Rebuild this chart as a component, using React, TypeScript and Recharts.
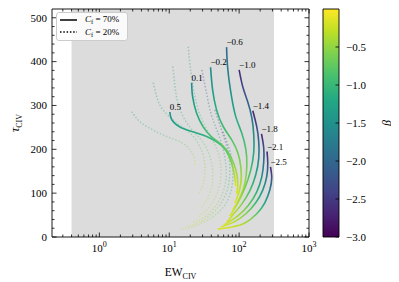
import React from 'react';
import { ComposedChart, Line, XAxis, YAxis, ReferenceArea, Legend, Customized } from 'recharts';

const FONT = '"Liberation Serif", "Times New Roman", serif';
const W = 391;
const H = 274;
const PL = 44;
const PT = 1;
const PR = 301;
const PB = 229;

const VIRIDIS = ['#440154', '#482475', '#414487', '#355f8d', '#2a788e', '#21918c', '#22a884', '#44bf70', '#7ad151', '#bddf26', '#fde725'];
const hex = (h: string) => [parseInt(h.slice(1, 3), 16), parseInt(h.slice(3, 5), 16), parseInt(h.slice(5, 7), 16)];
function viridis(t: number) {
  const c = Math.max(0, Math.min(1, t));
  const s = c * 10;
  const i = Math.min(9, Math.floor(s));
  const f = s - i;
  const a = hex(VIRIDIS[i]);
  const b = hex(VIRIDIS[i + 1]);
  return `rgb(${a.map((v, k) => Math.round(v + (b[k] - v) * f)).join(',')})`;
}
const BETA_MIN = -3;
const BETA_MAX = 0;
const betaColor = (b: number) => viridis((b - BETA_MIN) / (BETA_MAX - BETA_MIN));

// ---------- axes ----------
const X_DOMAIN = [0.21, 1000];
const Y_DOMAIN = [0, 520];
const GRAY_RANGE = [0.4, 316];
const X_MAJOR = [1, 10, 100, 1000];
const X_MINOR = [0.3, 0.4, 0.5, 0.6, 0.7, 0.8, 0.9, 2, 3, 4, 5, 6, 7, 8, 9, 20, 30, 40, 50, 60, 70, 80, 90, 200, 300, 400, 500, 600, 700, 800, 900];
const X_TICKS = [...X_MINOR, ...X_MAJOR].sort((a, b) => a - b);
const Y_MAJOR = [0, 100, 200, 300, 400, 500];
const Y_TICKS = [0, 20, 40, 60, 80, 100, 120, 140, 160, 180, 200, 220, 240, 260, 280, 300, 320, 340, 360, 380, 400, 420, 440, 460, 480, 500];
const CB_TICKS = [-3, -2.5, -2, -1.5, -1, -0.5];

// ---------- solid curves (C_f = 70%) ----------
const SOLID_LABELS = ['0.5', '0.1', '−0.2', '−0.6', '−1.0', '−1.4', '−1.8', '−2.1', '−2.5'];
const SOLID_BETA_TOP = [-1.55, -1.6, -1.6, -2.0, -2.65, -2.7, -2.7, -2.7, -2.7];
const SOLID_BETA_BOTTOM = -0.15;
const S05_EW = [10.2, 10.9, 14.2, 21.8, 38.1, 56.6, 71.3, 81.3, 86.8, 89.7];
const S05_TAU = [285, 267, 251, 240, 226, 208, 185, 158, 135, 116];
const S01_EW = [20.9, 21.6, 24.6, 30.6, 40.7, 58.5, 76.1, 89.7, 95.8, 92.7];
const S01_TAU = [352, 320, 283, 251, 228, 208, 183, 153, 123, 98];
const Sm02_EW = [39.0, 41.7, 47.5, 59.1, 78.7, 95.8, 106, 106, 95.8, 86.8];
const Sm02_TAU = [387, 336, 290, 252, 221, 192, 158, 123, 94, 78];
const Sm06_EW = [66.1, 69.0, 77.9, 89.7, 109, 125, 129, 121, 102, 81.3];
const Sm06_TAU = [433, 381, 320, 274, 237, 199, 162, 123, 89, 62];
const Sm10_EW = [100, 113, 133, 152, 162, 162, 147, 121, 95.8, 73.6];
const Sm10_TAU = [381, 342, 308, 272, 233, 194, 153, 112, 78, 48];
const Sm14_EW = [157, 179, 191, 191, 173, 142, 109, 84.0, 66.7];
const Sm14_TAU = [288, 251, 217, 180, 142, 105, 75, 53, 34];
const Sm18_EW = [209, 225, 225, 211, 179, 137, 95.8, 60.4];
const Sm18_TAU = [235, 203, 171, 137, 103, 73, 48, 27];
const Sm21_EW = [251, 257, 249, 218, 173, 125, 84.0, 54.8];
const Sm21_TAU = [195, 169, 139, 107, 78, 53, 34, 23];
const Sm25_EW = [281, 293, 275, 233, 179, 121, 78.7, 49.6];
const Sm25_TAU = [160, 135, 107, 78, 53, 32, 23, 18];
const SOLID_EW = [S05_EW, S01_EW, Sm02_EW, Sm06_EW, Sm10_EW, Sm14_EW, Sm18_EW, Sm21_EW, Sm25_EW];
const SOLID_TAU = [S05_TAU, S01_TAU, Sm02_TAU, Sm06_TAU, Sm10_TAU, Sm14_TAU, Sm18_TAU, Sm21_TAU, Sm25_TAU];

// ---------- dotted curves (C_f = 20%) ----------
const DOTTED_BETA_TOP = [-1.5, -1.5, -1.5, -1.5, -2.6, -2.6, -2.6];
const DOTTED_BETA_BOTTOM = -0.25;
const D1_EW = [2.90, 3.81, 5.85, 9.58, 15.2, 19.8, 22.5, 23.3];
const D1_TAU = [286, 263, 244, 228, 215, 199, 183, 164];
const D2_EW = [5.91, 6.61, 8.13, 12.9, 19.8, 26.6, 31.3, 32.4, 30.3, 26.6];
const D2_TAU = [352, 320, 290, 260, 237, 210, 180, 148, 119, 100];
const D3_EW = [11.2, 12.1, 13.3, 16.8, 23.3, 32.4, 39.4, 42.1, 39.4, 33.4, 27.5];
const D3_TAU = [389, 343, 306, 267, 237, 210, 176, 142, 107, 80, 66];
const D4_EW = [18.7, 19.8, 21.8, 24.9, 30.3, 39.4, 49.6, 54.8, 53.0, 45.0, 34.6, 25.7];
const D4_TAU = [434, 393, 347, 301, 263, 228, 194, 158, 121, 89, 62, 46];
const D5_EW = [29.3, 33.4, 39.4, 48.0, 58.5, 64.6, 64.6, 56.6, 43.5, 30.3, 21.8];
const D5_TAU = [381, 336, 283, 244, 203, 164, 130, 96, 66, 43, 34];
const D6_EW = [45.0, 53.0, 62.5, 71.3, 73.6, 69.0, 56.6, 40.7, 25.7, 17.9];
const D6_TAU = [290, 256, 221, 185, 148, 112, 80, 53, 32, 25];
const D7_EW = [58.5, 69.0, 78.7, 81.3, 73.6, 56.6, 35.7, 21.1, 14.2];
const D7_TAU = [240, 210, 176, 135, 96, 64, 39, 23, 18];
const DOTTED_EW = [D1_EW, D2_EW, D3_EW, D4_EW, D5_EW, D6_EW, D7_EW];
const DOTTED_TAU = [D1_TAU, D2_TAU, D3_TAU, D4_TAU, D5_TAU, D6_TAU, D7_TAU];

const LEGEND_ITEMS = [
  { pct: '70%', dash: undefined as string | undefined },
  { pct: '20%', dash: '1.5 1.8' },
];

const toPoints = (ew: number[], tau: number[]) => ew.map((x, i) => ({ x, y: tau[i] }));
const SOLID_DATA = SOLID_EW.map((ew, i) => toPoints(ew, SOLID_TAU[i]));
const DOTTED_DATA = DOTTED_EW.map((ew, i) => toPoints(ew, DOTTED_TAU[i]));

const STOP_OFFSETS = [0, 0.1, 0.2, 0.3, 0.4, 0.5, 0.6, 0.7, 0.8, 0.9, 1];
const gradient = (id: string, top: number, bottom: number) => (
  <linearGradient key={id} id={id} x1="0" y1="0" x2="0" y2="1">
    {STOP_OFFSETS.map((o) => (
      <stop key={o} offset={o} stopColor={betaColor(top + (bottom - top) * o)} />
    ))}
  </linearGradient>
);

const XTick = (props: any) => {
  const { x, payload } = props;
  const v = payload.value;
  const major = X_MAJOR.includes(v);
  const len = major ? 4.5 : 2.5;
  return (
    <g>
      <line x1={x} x2={x} y1={PB} y2={PB - len} stroke="#000" strokeWidth={0.8} />
      <line x1={x} x2={x} y1={PT} y2={PT + len} stroke="#000" strokeWidth={0.8} />
      {major && (
        <text x={x} y={PB + 15} textAnchor="middle" fontFamily={FONT} fontSize={11} fill="#000">
          10<tspan dy={-5} fontSize={8}>{Math.round(Math.log10(v))}</tspan>
        </text>
      )}
    </g>
  );
};

const YTick = (props: any) => {
  const { y, payload } = props;
  const v = payload.value;
  const major = Y_MAJOR.includes(v);
  const len = major ? 4.5 : 2.5;
  return (
    <g>
      <line x1={PL} x2={PL + len} y1={y} y2={y} stroke="#000" strokeWidth={0.8} />
      <line x1={PR - len} x2={PR} y1={y} y2={y} stroke="#000" strokeWidth={0.8} />
      {major && (
        <text x={PL - 5} y={y} dy="0.35em" textAnchor="end" fontFamily={FONT} fontSize={11} fill="#000">
          {v}
        </text>
      )}
    </g>
  );
};

const curveLabel = (text: string) => (p: any) => {
  if (p.index !== 0) return null;
  const x = p.x ?? p.viewBox?.x;
  const y = p.y ?? p.viewBox?.y;
  if (x == null || y == null) return null;
  return (
    <text key={text} x={x} y={y - 2} fontFamily={FONT} fontSize={9} fill="#000">
      {text}
    </text>
  );
};

const LegendBox = () => (
  <div
    style={{
      background: 'rgba(255,255,255,0.85)',
      border: '1px solid #cccccc',
      borderRadius: 3,
      padding: '1px 3px 1px 3px',
      fontFamily: FONT,
      fontSize: 9,
      color: '#000',
      width: 64,
    }}
  >
    {LEGEND_ITEMS.map((it) => (
      <div key={it.pct} style={{ display: 'flex', alignItems: 'center', height: 12.5 }}>
        <svg width={17} height={6} style={{ display: 'block' }}>
          <line x1={0} y1={3} x2={17} y2={3} stroke="#000" strokeWidth={1.5} strokeDasharray={it.dash} />
        </svg>
        <span style={{ marginLeft: 8, whiteSpace: 'nowrap', lineHeight: '10px' }}>
          <i>C</i>
          <span style={{ fontSize: 6.5, position: 'relative', top: 2 }}>f</span>
          {' = '}
          {it.pct}
        </span>
      </div>
    ))}
  </div>
);

const AxisTitles = () => (
  <g fontFamily={FONT} fill="#000">
    <text x={(PL + PR) / 2} y={268} textAnchor="middle" fontSize={11.5}>
      EW<tspan fontSize={8} dy={2.5}>CIV</tspan>
    </text>
    <text transform={`translate(11, ${(PT + PB) / 2}) rotate(-90)`} textAnchor="middle" fontSize={12}>
      <tspan fontStyle="italic">τ</tspan>
      <tspan fontSize={8} dy={2.5}>CIV</tspan>
    </text>
  </g>
);

// ---------- colorbar ----------
const CB_W = 84;
const CB_L = 8;
const CB_R = 24;
const CB_DATA = [
  { x: 0, v: BETA_MIN },
  { x: 1, v: BETA_MAX },
];
const CbTick = (props: any) => {
  const { y, payload } = props;
  const v = payload.value as number;
  return (
    <g>
      <line x1={CB_R - 3.5} x2={CB_R} y1={y} y2={y} stroke="#000" strokeWidth={0.8} />
      <text x={CB_R + 7} y={y} dy="0.35em" fontFamily={FONT} fontSize={11} fill="#000">
        {v.toFixed(1).replace('-', '−')}
      </text>
    </g>
  );
};
const CbTitle = () => (
  <text transform={`translate(76, ${(PT + PB) / 2}) rotate(-90)`} textAnchor="middle" fontFamily={FONT} fontSize={12} fontStyle="italic" fill="#000">
    β
  </text>
);

export default function App() {
  return (
    <div style={{ position: 'relative', width: W, height: H }}>
      <ComposedChart width={W} height={H} margin={{ top: PT, right: W - PR, bottom: 0, left: 0 }}>
        <defs>
          {SOLID_BETA_TOP.map((b, i) => gradient(`gs${i}`, b, SOLID_BETA_BOTTOM))}
          {DOTTED_BETA_TOP.map((b, i) => gradient(`gd${i}`, b, DOTTED_BETA_BOTTOM))}
        </defs>
        <XAxis
          dataKey="x"
          type="number"
          scale="log"
          domain={X_DOMAIN}
          allowDataOverflow
          ticks={X_TICKS}
          interval={0}
          tick={XTick}
          tickSize={0}
          tickMargin={0}
          tickLine={false}
          axisLine={false}
          height={H - PB}
        />
        <YAxis
          dataKey="y"
          type="number"
          domain={Y_DOMAIN}
          allowDataOverflow
          ticks={Y_TICKS}
          interval={0}
          tick={YTick}
          tickSize={0}
          tickMargin={0}
          tickLine={false}
          axisLine={false}
          width={PL}
        />
        <ReferenceArea x1={GRAY_RANGE[0]} x2={GRAY_RANGE[1]} y1={Y_DOMAIN[0]} y2={Y_DOMAIN[1]} fill="#dcdcdc" fillOpacity={1} stroke="none" ifOverflow="visible" />
        {DOTTED_DATA.map((d, i) => (
          <Line
            key={`d${i}`}
            data={d}
            dataKey="y"
            type="natural"
            stroke={`url(#gd${i})`}
            strokeWidth={1.5}
            strokeDasharray="1.5 1.8"
            strokeOpacity={0.35}
            dot={false}
            activeDot={false}
            isAnimationActive={false}
            legendType="none"
          />
        ))}
        {SOLID_DATA.map((d, i) => (
          <Line
            key={`s${i}`}
            data={d}
            dataKey="y"
            type="natural"
            stroke={`url(#gs${i})`}
            strokeWidth={1.6}
            dot={false}
            activeDot={false}
            isAnimationActive={false}
            legendType="none"
            label={curveLabel(SOLID_LABELS[i])}
          />
        ))}
        <ReferenceArea x1={X_DOMAIN[0]} x2={X_DOMAIN[1]} y1={Y_DOMAIN[0]} y2={Y_DOMAIN[1]} fill="none" stroke="#000" strokeWidth={0.9} ifOverflow="visible" />
        <Customized component={AxisTitles} />
        <Legend
          layout="horizontal"
          verticalAlign="middle"
          align="center"
          content={() => <LegendBox />}
          wrapperStyle={{ left: 48, top: 3.5, width: 'auto', height: 'auto', margin: 0 }}
        />
      </ComposedChart>
      <div style={{ position: 'absolute', left: 307, top: 0 }}>
        <ComposedChart width={CB_W} height={H} data={CB_DATA} margin={{ top: PT, right: 0, bottom: H - PB, left: CB_L }}>
          <defs>
            <linearGradient id="cbar" x1="0" y1="1" x2="0" y2="0">
              {VIRIDIS.map((c, i) => (
                <stop key={c} offset={i / 10} stopColor={c} />
              ))}
            </linearGradient>
          </defs>
          <XAxis dataKey="x" type="number" domain={[0, 1]} hide />
          <YAxis
            dataKey="v"
            type="number"
            orientation="right"
            domain={[BETA_MIN, BETA_MAX]}
            ticks={CB_TICKS}
            interval={0}
            tick={CbTick}
            tickSize={0}
            tickMargin={0}
            tickLine={false}
            axisLine={false}
            width={CB_W - CB_R}
          />
          <ReferenceArea x1={0} x2={1} y1={BETA_MIN} y2={BETA_MAX} fill="url(#cbar)" fillOpacity={1} stroke="#000" strokeWidth={0.9} ifOverflow="visible" />
          <Customized component={CbTitle} />
        </ComposedChart>
      </div>
    </div>
  );
}
